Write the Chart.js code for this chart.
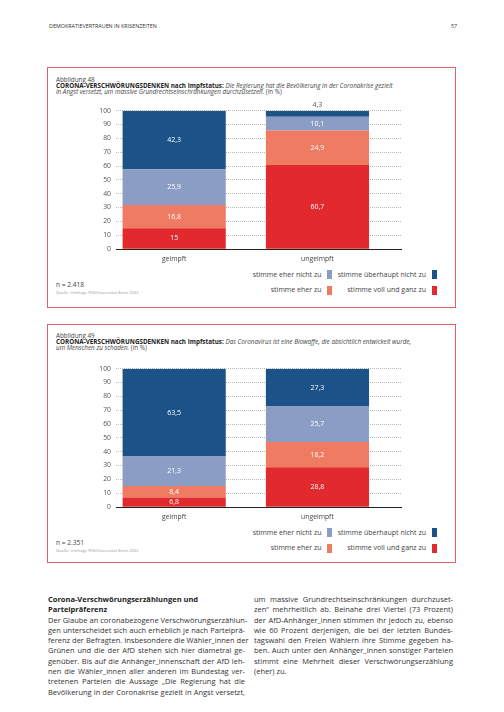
<!DOCTYPE html>
<html>
<head>
<meta charset="utf-8">
<script src="https://cdn.jsdelivr.net/npm/chart.js@4.4.1/dist/chart.umd.min.js"></script>
<style>
html,body{margin:0;padding:0;background:#fff;}
body{width:504px;height:712px;position:relative;overflow:hidden;font-family:"Open Sans",sans-serif;color:#333;}
.abs{position:absolute;white-space:nowrap;}
.box{position:absolute;border:1px solid #e0606a;box-sizing:border-box;}
.hdr{font-size:5.4px;color:#333;line-height:8px;}
.fig{font-size:6.3px;line-height:6.2px;color:#444;}
.fig b{color:#222;}
.n{font-size:6.6px;color:#444;line-height:8px;}
.q{font-size:4.1px;color:#999;line-height:5px;}
canvas{position:absolute;}
.leg{position:absolute;display:flex;align-items:center;font-size:7px;color:#444;line-height:10px;white-space:nowrap;}
.leg span.sw{display:inline-block;width:5px;height:9px;margin-left:5.5px;}
.col{position:absolute;font-size:7.5px;line-height:10.3px;color:#333;}
.col div{text-align:justify;text-align-last:justify;white-space:nowrap;}
.col div.last{text-align-last:left;}
.col div.h{font-weight:bold;text-align-last:left;color:#222;}
</style>
</head>
<body>
<div class="abs hdr" style="left:49px;top:22px;">DEMOKRATIEVERTRAUEN IN KRISENZEITEN</div>
<div class="abs hdr" style="left:451px;top:22px;">57</div>

<div class="box" style="left:47px;top:66.5px;width:409px;height:241px;"></div>
<div class="abs fig" style="left:56px;top:77px;">Abbildung 48<br><b>CORONA-VERSCHWÖRUNGSDENKEN nach Impfstatus:</b> <i>Die Regierung hat die Bevölkerung in der Coronakrise gezielt</i><br><i>in Angst versetzt, um massive Grundrechtseinschränkungen durchzusetzen.</i> (in %)</div>
<canvas id="c48" width="312" height="171" style="left:90px;top:95px;"></canvas>
<div class="abs n" style="left:56px;top:281px;">n = 2.418</div>
<div class="abs q" style="left:56px;top:290px;">Quelle: Umfrage FES/Universität Bonn 2022</div>

<div class="box" style="left:47px;top:324px;width:409px;height:239px;"></div>
<div class="abs fig" style="left:56px;top:332.5px;">Abbildung 49<br><b>CORONA-VERSCHWÖRUNGSDENKEN nach Impfstatus:</b> <i>Das Coronavirus ist eine Biowaffe, die absichtlich entwickelt wurde,</i><br><i>um Menschen zu schaden.</i> (in %)</div>
<canvas id="c49" width="312" height="171" style="left:90px;top:352.8px;"></canvas>
<div class="abs n" style="left:56px;top:539px;">n = 2.351</div>
<div class="abs q" style="left:56px;top:548px;">Quelle: Umfrage FES/Universität Bonn 2022</div>

<div class="col" style="left:48px;top:594px;width:197px;">
<div class="h">Corona-Verschwörungserzählungen und</div>
<div class="h">Parteipräferenz</div>
<div>Der Glaube an coronabezogene Verschwörungserzählun-</div>
<div>gen unterscheidet sich auch erheblich je nach Parteiprä-</div>
<div>ferenz der Befragten. Insbesondere die Wähler_innen der</div>
<div>Grünen und die der AfD stehen sich hier diametral ge-</div>
<div>genüber. Bis auf die Anhänger_innenschaft der AfD leh-</div>
<div>nen die Wähler_innen aller anderen im Bundestag ver-</div>
<div>tretenen Parteien die Aussage „Die Regierung hat die</div>
<div>Bevölkerung in der Coronakrise gezielt in Angst versetzt,</div>
</div>
<div class="col" style="left:254px;top:594px;width:199px;">
<div>um massive Grundrechtseinschränkungen durchzuset-</div>
<div>zen“ mehrheitlich ab. Beinahe drei Viertel (73 Prozent)</div>
<div>der AfD-Anhänger_innen stimmen ihr jedoch zu, ebenso</div>
<div>wie 60 Prozent derjenigen, die bei der letzten Bundes-</div>
<div>tagswahl den Freien Wählern ihre Stimme gegeben ha-</div>
<div>ben. Auch unter den Anhänger_innen sonstiger Parteien</div>
<div>stimmt eine Mehrheit dieser Verschwörungserzählung</div>
<div class="last">(eher) zu.</div>
</div>

<script>
// ---- data ----
const categories = ['geimpft', 'ungeimpft'];
const seriesNames = ['stimme voll und ganz zu', 'stimme eher zu', 'stimme eher nicht zu', 'stimme überhaupt nicht zu'];
const seriesColors = ['#e2292d', '#ee7b62', '#8c9dc5', '#1b5288'];

// Abbildung 48
const fig48VollUndGanz = [15, 60.7];
const fig48EherZu = [16.8, 24.9];
const fig48EherNicht = [25.9, 10.1];
const fig48UeberhauptNicht = [42.3, 4.3];

// Abbildung 49
const fig49VollUndGanz = [6.8, 28.8];
const fig49EherZu = [8.4, 18.2];
const fig49EherNicht = [21.3, 25.7];
const fig49UeberhauptNicht = [63.5, 27.3];

const yMin = 0, yMax = 100, yStep = 10;

// ---- rendering ----
const fmt = v => String(v).replace('.', ',');

const valueLabels = {
  id: 'valueLabels',
  afterDatasetsDraw(chart) {
    const ctx = chart.ctx;
    ctx.save();
    ctx.font = '7px "Open Sans"';
    ctx.textAlign = 'center';
    ctx.textBaseline = 'middle';
    chart.data.datasets.forEach((ds, i) => {
      const meta = chart.getDatasetMeta(i);
      meta.data.forEach((bar, j) => {
        const v = ds.data[j].y;
        const top = Math.min(bar.y, bar.base), bottom = Math.max(bar.y, bar.base);
        if (bottom - top < 8) {
          ctx.fillStyle = '#555';
          ctx.fillText(fmt(v), bar.x, top - 5.7);
        } else {
          ctx.fillStyle = '#fff';
          ctx.fillText(fmt(v), bar.x, (top + bottom) / 2);
        }
      });
    });
    ctx.restore();
  }
};

function makeChart(id, values) {
  const datasets = seriesNames.map((name, i) => ({
    label: name,
    data: categories.map((c, j) => ({ x: j, y: values[i][j] })),
    backgroundColor: seriesColors[i],
    borderWidth: 0,
    barPercentage: 0.72,
    categoryPercentage: 1,
    stack: 's'
  }));
  new Chart(document.getElementById(id), {
    type: 'bar',
    data: { datasets },
    plugins: [valueLabels],
    options: {
      responsive: false,
      animation: false,
      layout: { padding: { top: 15.7, left: 0, right: 0, bottom: 0 } },
      plugins: { legend: { display: false }, tooltip: { enabled: false } },
      scales: {
        x: {
          type: 'linear',
          min: -0.406,
          max: 1.59,
          stacked: true,
          offset: false,
          grid: { display: true, color: 'rgba(0,0,0,0)', drawTicks: false, offset: false },
          border: { display: true, color: '#222', width: 1 },
          ticks: {
            stepSize: 1, includeBounds: false, autoSkip: false, maxRotation: 0,
            padding: 6, color: '#444', font: { size: 6.8, family: 'Open Sans' },
            callback: v => Number.isInteger(v) ? categories[v] : ''
          },
          afterFit: a => { a.height = 17; }
        },
        y: {
          min: yMin, max: yMax, stacked: true,
          ticks: { stepSize: yStep, padding: 5, color: '#555', font: { size: 6.8, family: 'Open Sans' } },
          grid: { color: '#8a8a8a', lineWidth: 0.6, drawTicks: false },
          border: { display: false, dash: [1, 1] },
          afterFit: a => { a.width = 26; }
        }
      }
    }
  });
}

function makeLegend(rowTop) {
  const layout = [[2, 332], [3, 436.5], [1, 332], [0, 436.5]];
  layout.forEach(([si, right], k) => {
    const d = document.createElement('div');
    d.className = 'leg';
    d.style.right = (504 - right) + 'px';
    d.style.top = (rowTop + (k > 1 ? 15.5 : 0) - 5) + 'px';
    const t = document.createElement('span');
    t.textContent = seriesNames[si];
    const s = document.createElement('span');
    s.className = 'sw';
    s.style.background = seriesColors[si];
    d.appendChild(t); d.appendChild(s);
    document.body.appendChild(d);
  });
}

makeChart('c48', [fig48VollUndGanz, fig48EherZu, fig48EherNicht, fig48UeberhauptNicht]);
makeChart('c49', [fig49VollUndGanz, fig49EherZu, fig49EherNicht, fig49UeberhauptNicht]);
makeLegend(274.5);
makeLegend(532.5);
</script>
</body>
</html>
